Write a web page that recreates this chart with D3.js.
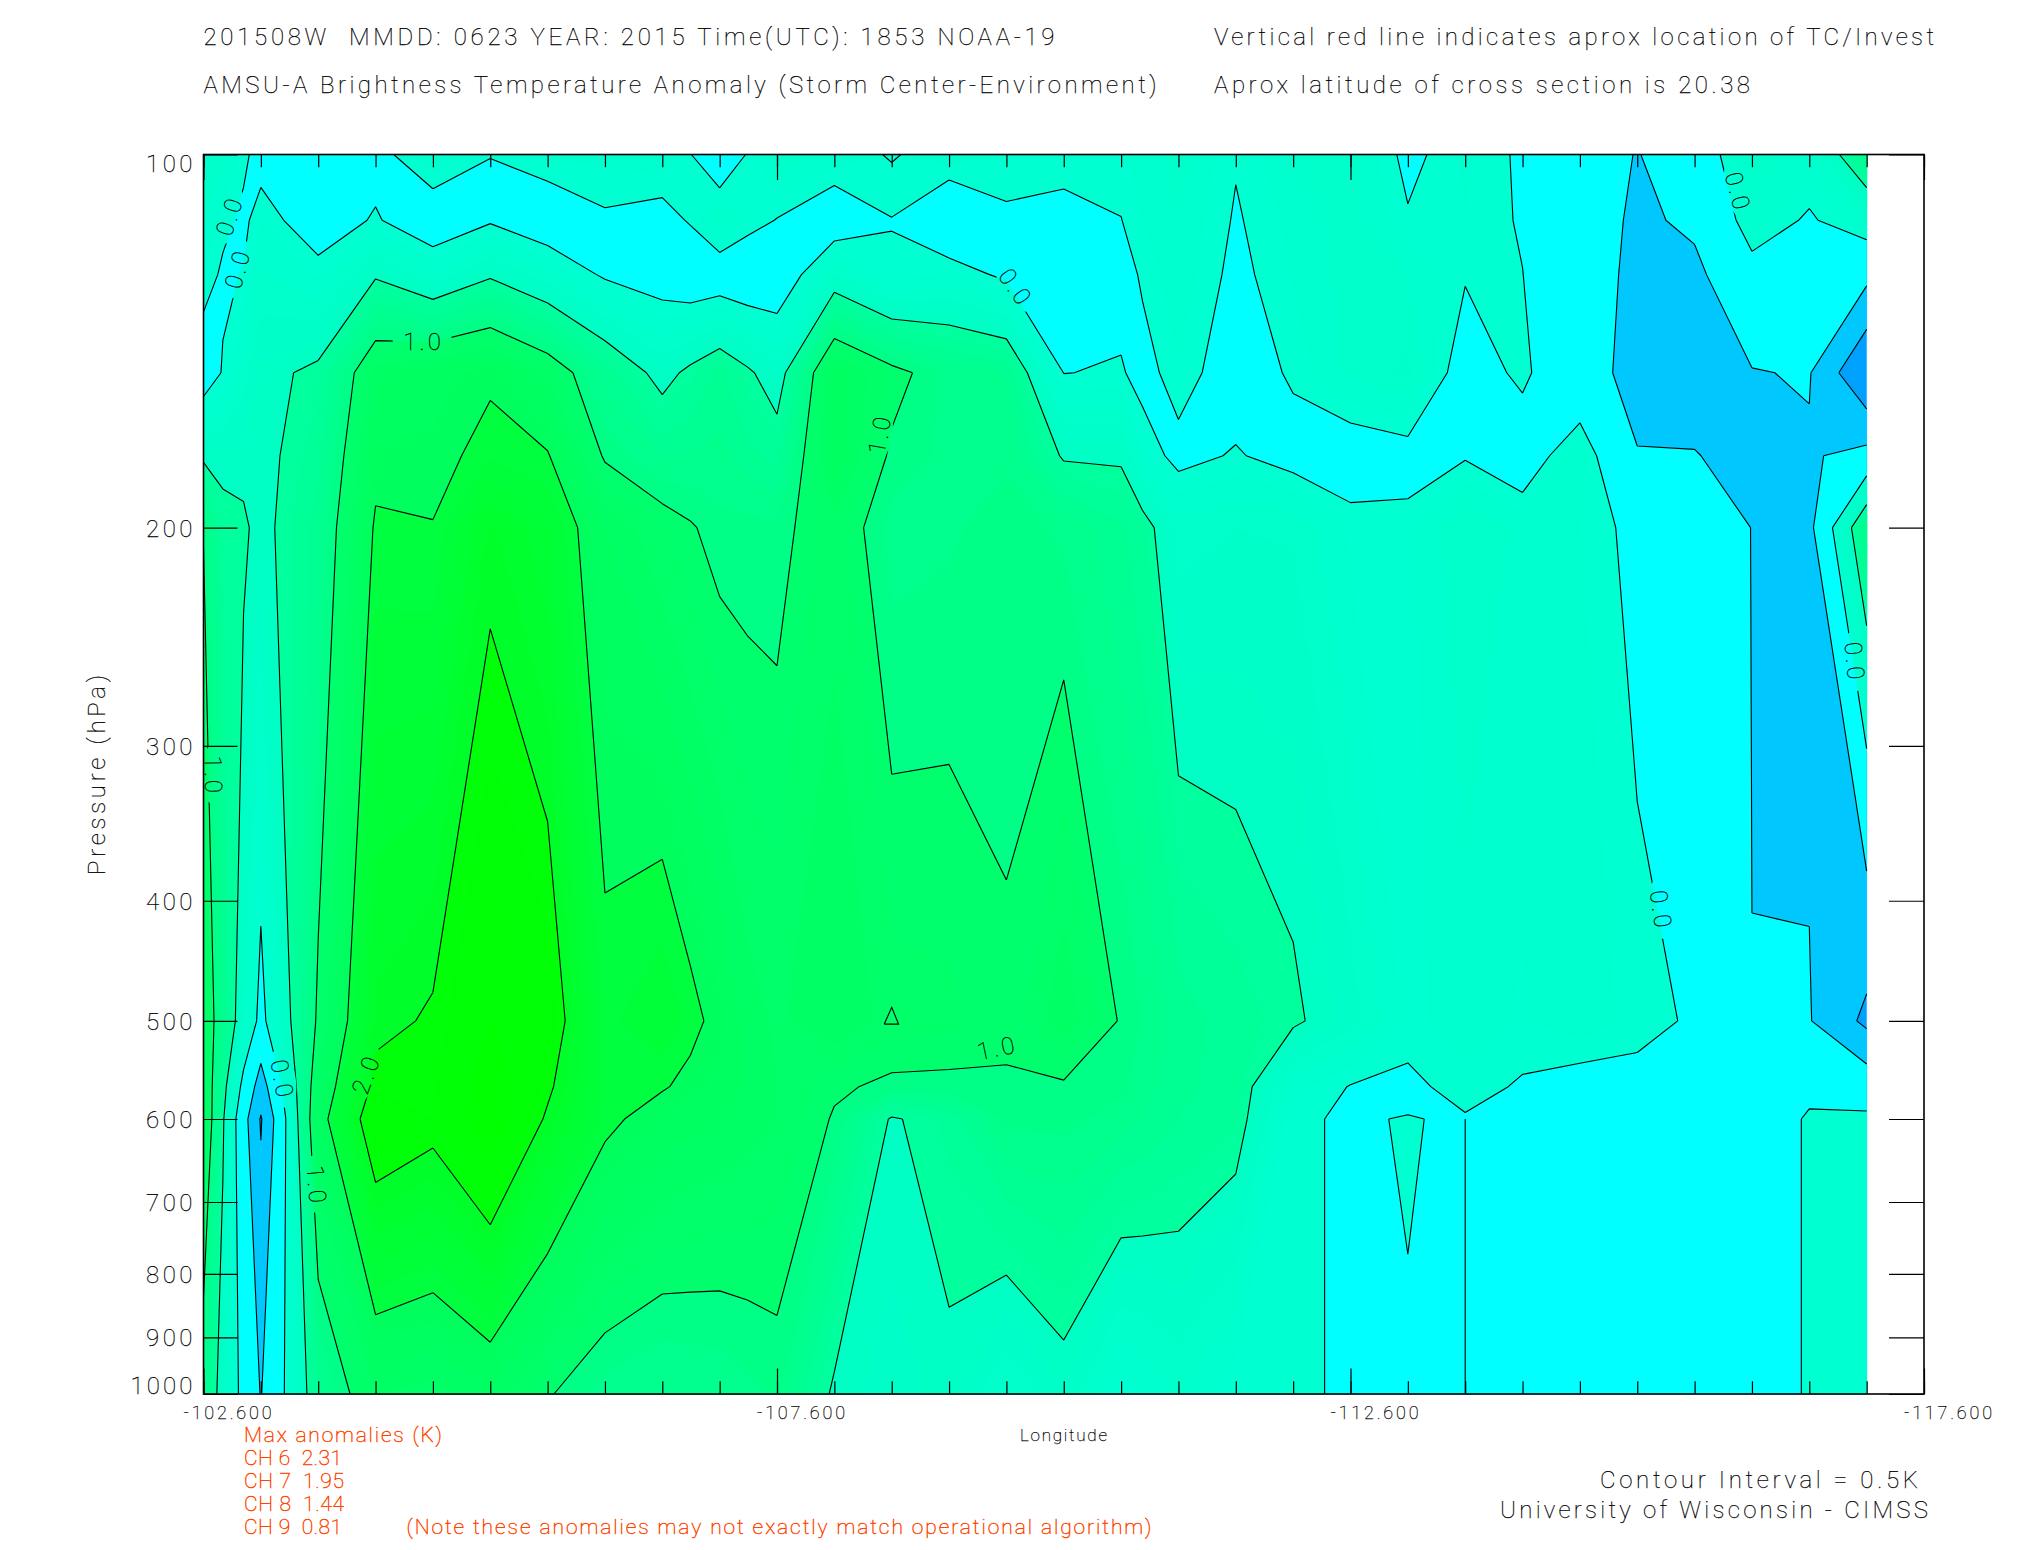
<!DOCTYPE html>
<html><head><meta charset="utf-8">
<script src="https://cdnjs.cloudflare.com/ajax/libs/d3/7.8.5/d3.min.js"></script>
<style>html,body{margin:0;padding:0;background:#fff}svg{display:block}
text{font-family:'Roboto','DejaVu Sans',sans-serif;font-weight:100;fill:#000;stroke:#000;stroke-width:.25}</style>
</head><body><svg id="c" width="2025" height="1550"></svg>
<script>
const pressures=[100,113,125,150,175,200,500,565,600,1000];
const longitudes=[-102.6,-102.769,-102.949,-103.1,-103.6,-104.1,-104.6,-105.1,-105.6,-106.1,-106.6,-106.845,-107.1,-107.341,-107.6,-108.1,-108.6,-109.1,-109.6,-110.1,-110.6,-110.787,-111.1,-111.6,-112.1,-112.6,-113.1,-113.6,-114.1,-114.6,-115.1,-115.6,-116.1,-116.6,-117.1];
const p100=[.33,.22,.05,-.1,-.2,-.1,.217,.002,.13,.128,.19,.01,-.3,.02,.277,.17,.1,.17,.1,.11,.08,.143,.25,.017,.2,.25,-.06,.12,-.034,-.25,-.52,-.2,.25,.17,.8];
const p113=[.22,.06,-.05,.1,-.15,.026,-.2,-.03,-.19,-.03,-.1,.024,.29,.1,-.01,-.19,-.005,-.27,-.04,-.1,-.005,.1,.2,-.02,.13,.25,.02,.1,-.02,-.25,-.58,-.42,.16,-.037,.205];
const p125=[.11,-.04,.0125,.22,.083,.465,.21,.46,.22,-.038,-.14,-.23,-.2,-.25,-.23,.31,.02,.12,-.05,-.06,-.1,.03,.17,-.054,.11,.25,.2,.02,.003,-.25,-.62,-.6,-.12,-.25,-.37];
const p150=[-.18,.02,.25,.42,.56,1.26,1.36,1.46,1.19,.76,.4,.565,.73,.548,.35,1.37,1.08,.86,.79,-.005,.022,-.08,.09,-.128,.03,.23,.33,-.15,.057,-.3,-.65,-.62,-.52,-.47,-1.5];
const p175=[.45,.44,.43,.42,.66,1.42,1.42,1.58,1.52,.97,.78,.805,.83,.74,.65,1.4,.96,.87,.88,.47,.46,.115,-.07,.02,-.09,-.15,-.1,-.02,-.176,.197,-.48,-.49,-.58,-.55,-.35];
const p200=[.99,.57,.54,.42,.75,1.535,1.51,1.92,1.72,1.3,1.11,1.02,.93,.93,.93,1.156,.85,.88,.95,.875,.72,.62,.25,.3,.29,.08,.067,.3,.169,.1,-.06,-.3,-.505,-.61,.9];
const p500=[1.25,.79,.31,-.1,1.05,1.93,2.03,2.31,2.19,1.57,1.69,1.56,1.43,1.25,1.18,1.3,1.15,1.13,1.02,1.28,.98,.893,.747,.65,.54,.35,.071,.15,.087,.18,.048,-.02,-.4986,-.474,-1.11];
const p565=[1.31,.62,-.107,-.72,1.25,2.08,2.08,2.42,2.05,1.57,1.52,1.445,1.37,1.29,1.2,1.03,.96,.954,.99,.969,.92,.85,.73,.64,.15,-.01,-.04,.06,-.02,-.1,-.052,-.1,-.42,-.12,-.18];
const p600=[1.35,.54,-.32,-1.04,1.35,2.24,2.1,2.45,1.96,1.56,1.385,1.34,1.3,1.25,1.2,.98,.47,.63,.92,.93,.85,.794,.7,.62,.0146,-.012,.006,-.015,-.1,-.15,-.15,-.15,-.34,.055,.06];
const p1000=[.81,.36,-.118,-.52,.75,1.2,1.15,1.28,1.02,.84,.78,.8,.82,.87,.92,.458,.35,.44,.18,.395,.04,.103,.21,.02,.0146,-.012,-.0062,-.015,-.1,-.15,-.15,-.15,-.34,.055,.1];
const field=[p100,p113,p125,p150,p175,p200,p500,p565,p600,p1000];
const lineLevels=[-1.5,-1,-.5,0,.5,1,1.5,2];
const yTicks=[100,200,300,400,500,600,700,800,900,1000];
const xMinor=d3.range(31).map(i=>-102.6-.5*i);
const xMajor=[-102.6,-107.6,-112.6,-117.6];
const xLabels=["-102.600","-107.600","-112.600","-117.600"];
const blueStops=[[0,210],[.5,196],[.5001,160],[1,132],[1.0001,110],[1.5,92],[1.5001,64],[2,40],[2.0001,10],[2.4,0]];
// contour traces that the grid cannot carry: [lon,p] polylines
const traces=[
 [[-113.6,600],[-113.6,1000]],
 [[-108.52,100],[-108.6,101.5],[-108.68,100]],
 [[-108.535,503],[-108.6,487.6],[-108.66,503],[-108.535,503]]
];
const labels=[
 ["0.0",-102.82,112.2,-72],["0.0",-102.89,123.8,-75],["1.0",-104.51,141.3,0],["0.0",-109.68,127.8,55],
 ["1.0",-108.49,168.4,-80],["0.0",-115.98,107,75],["0.0",-117.0,256.3,85],["0.0",-115.31,406.4,82],
 ["1.0",-109.51,525.5,-12],["2.0",-104.01,552.7,-70],["0.0",-103.29,556.7,80],["1.0",-103.59,677.7,85],["1.0",-102.69,316.6,89]
];

const svg=d3.select("#c");
const L=203.5,R=1924,T=154.5,B=1394;
const x=d3.scaleLinear().domain([-102.6,-117.6]).range([L,R]);
const y=d3.scaleLog().domain([100,1000]).range([T,B]);
const blue=d3.scaleLinear().domain(blueStops.map(d=>d[0])).range(blueStops.map(d=>d[1])).clamp(true);
function color(v){
  if(v<-1) return "rgb(0,160,255)";
  if(v<-.5) return "rgb(0,200,255)";
  if(v<0) return "rgb(0,255,255)";
  return `rgb(0,255,${Math.round(blue(v))})`;
}
const nx=longitudes.length, ny=pressures.length;
const values=field.flat();
const lerp=(arr,scale,r)=>{const i=Math.min(arr.length-2,Math.floor(r));
  return d3.interpolateNumber(scale(arr[i]),scale(arr[i+1]))(r-i);};
const px=u=>lerp(longitudes,x,Math.max(0,Math.min(nx-1,u-.5)));
const py=v=>lerp(pressures,y,Math.max(0,Math.min(ny-1,v-.5)));
const fills=[-3,-1,-.5].concat(d3.range(0,2.5,.1).map(d=>+d.toFixed(1)));
const gen=d3.contours().size([nx,ny]).smooth(true);
const ringsPath=mp=>mp.coordinates.map(poly=>poly.map(ring=>"M"+ring.map(p=>px(p[0]).toFixed(2)+","+py(p[1]).toFixed(2)).join("L")+"Z").join("")).join("");
const defs=svg.append("defs");
const mask=defs.append("mask").attr("id","gaps").attr("maskUnits","userSpaceOnUse").attr("x",0).attr("y",0).attr("width",2025).attr("height",1550);
mask.append("rect").attr("width",2025).attr("height",1550).attr("fill","#fff");
mask.selectAll("ellipse").data(labels).join("ellipse")
  .attr("rx",30).attr("ry",13).attr("fill","#000")
  .attr("transform",d=>`translate(${x(d[1])},${y(d[2])}) rotate(${d[3]})`);

const gF=svg.append("g");
fills.forEach(t=>{
  const mid=t<0?t+.001:t+.05;
  gF.append("path").attr("d",ringsPath(gen.contour(values,t))).attr("fill",color(mid)).attr("stroke",color(mid)).attr("stroke-width",.3);
});
const gL=svg.append("g").attr("mask","url(#gaps)").attr("fill","none").attr("stroke","#000").attr("stroke-width",1.1);
lineLevels.forEach(t=>{
  let d="";
  gen.contour(values,t).coordinates.forEach(poly=>poly.forEach(ring=>{
    for(let i=0;i<ring.length-1;i++){
      const a=ring[i],b=ring[i+1];
      const edge=(a[0]<=.5&&b[0]<=.5)||(a[0]>=nx-.5&&b[0]>=nx-.5)||(a[1]<=.5&&b[1]<=.5)||(a[1]>=ny-.5&&b[1]>=ny-.5);
      if(!edge) d+=`M${px(a[0]).toFixed(2)},${py(a[1]).toFixed(2)}L${px(b[0]).toFixed(2)},${py(b[1]).toFixed(2)}`;
    }
  }));
  gL.append("path").attr("d",d);
});
const traceLine=d3.line().x(d=>x(d[0])).y(d=>y(d[1]));
gL.selectAll("path.t").data(traces).join("path").attr("class","t").attr("d",traceLine);

// axes
const ax=(axisGen,dx,dy)=>{const s=svg.append("g").attr("transform",`translate(${dx},${dy})`).call(axisGen);
  s.selectAll(".domain").remove();s.selectAll("text").remove();s.selectAll("line").attr("stroke","#000").attr("stroke-width",1.2);};
ax(d3.axisBottom(x).tickValues(xMinor).tickSize(-12.7),0,B);
ax(d3.axisTop(x).tickValues(xMinor).tickSize(-12.7),0,T);
ax(d3.axisBottom(x).tickValues(xMajor).tickSize(-25.5),0,B);
ax(d3.axisTop(x).tickValues(xMajor).tickSize(-25.5),0,T);
ax(d3.axisLeft(y).tickValues(yTicks).tickSize(-34),L,0);
ax(d3.axisRight(y).tickValues(yTicks).tickSize(-35),R,0);
svg.append("rect").attr("x",L).attr("y",T).attr("width",R-L).attr("height",B-T).attr("fill","none").attr("stroke","#000").attr("stroke-width",1.6);

function txt(s,xx,yy,size,len,col){
  const t=svg.append("text").text(s).attr("x",xx).attr("y",yy).attr("font-size",size).attr("xml:space","preserve");
  if(len) t.attr("textLength",len).attr("lengthAdjust","spacing");
  if(col) t.style("fill",col).style("stroke",col).style("stroke-width",.45);
  return t;
}
txt("201508W  MMDD: 0623 YEAR: 2015 Time(UTC): 1853 NOAA-19",203.5,45,24,851);
txt("Vertical red line indicates aprox location of TC/Invest",1214,45,24,720);
txt("AMSU-A Brightness Temperature Anomaly (Storm Center-Environment)",203.5,93,24,953);
txt("Aprox latitude of cross section is 20.38",1214,93,24,536);
yTicks.forEach(p=>{
  const w=String(p).length*15.5;
  const base=p===100?172:p===1000?1394:y(p)+9;
  txt(String(p),192.5-w,base,24,w);
});
txt("Pressure (hPa)",0,0,24,200).attr("transform","translate(105,875) rotate(-90)");
xLabels.forEach((s,i)=>txt(s,x(xMajor[i])+24-44,1419,18,88));
txt("Longitude",1020,1441,17,87);
const red="#ff4500";
txt("Max anomalies (K)",244,1441.5,21,198,red);
txt("CH 6  2.31",244,1465,21,98,red);
txt("CH 7  1.95",244,1488,21,100,red);
txt("CH 8  1.44",244,1511,21,100,red);
txt("CH 9  0.81",244,1534,21,98,red);
txt("(Note these anomalies may not exactly match operational algorithm)",406.5,1534,21,745,red);
txt("Contour Interval = 0.5K",1600,1488,24,318);
txt("University of Wisconsin - CIMSS",1500,1518,24,428);
labels.forEach(d=>{
  svg.append("text").text(d[0]).attr("font-size",24).attr("text-anchor","middle").attr("letter-spacing",3)
   .attr("transform",`translate(${x(d[1])},${y(d[2])}) rotate(${d[3]}) translate(1,9)`);
});
</script></body></html>
